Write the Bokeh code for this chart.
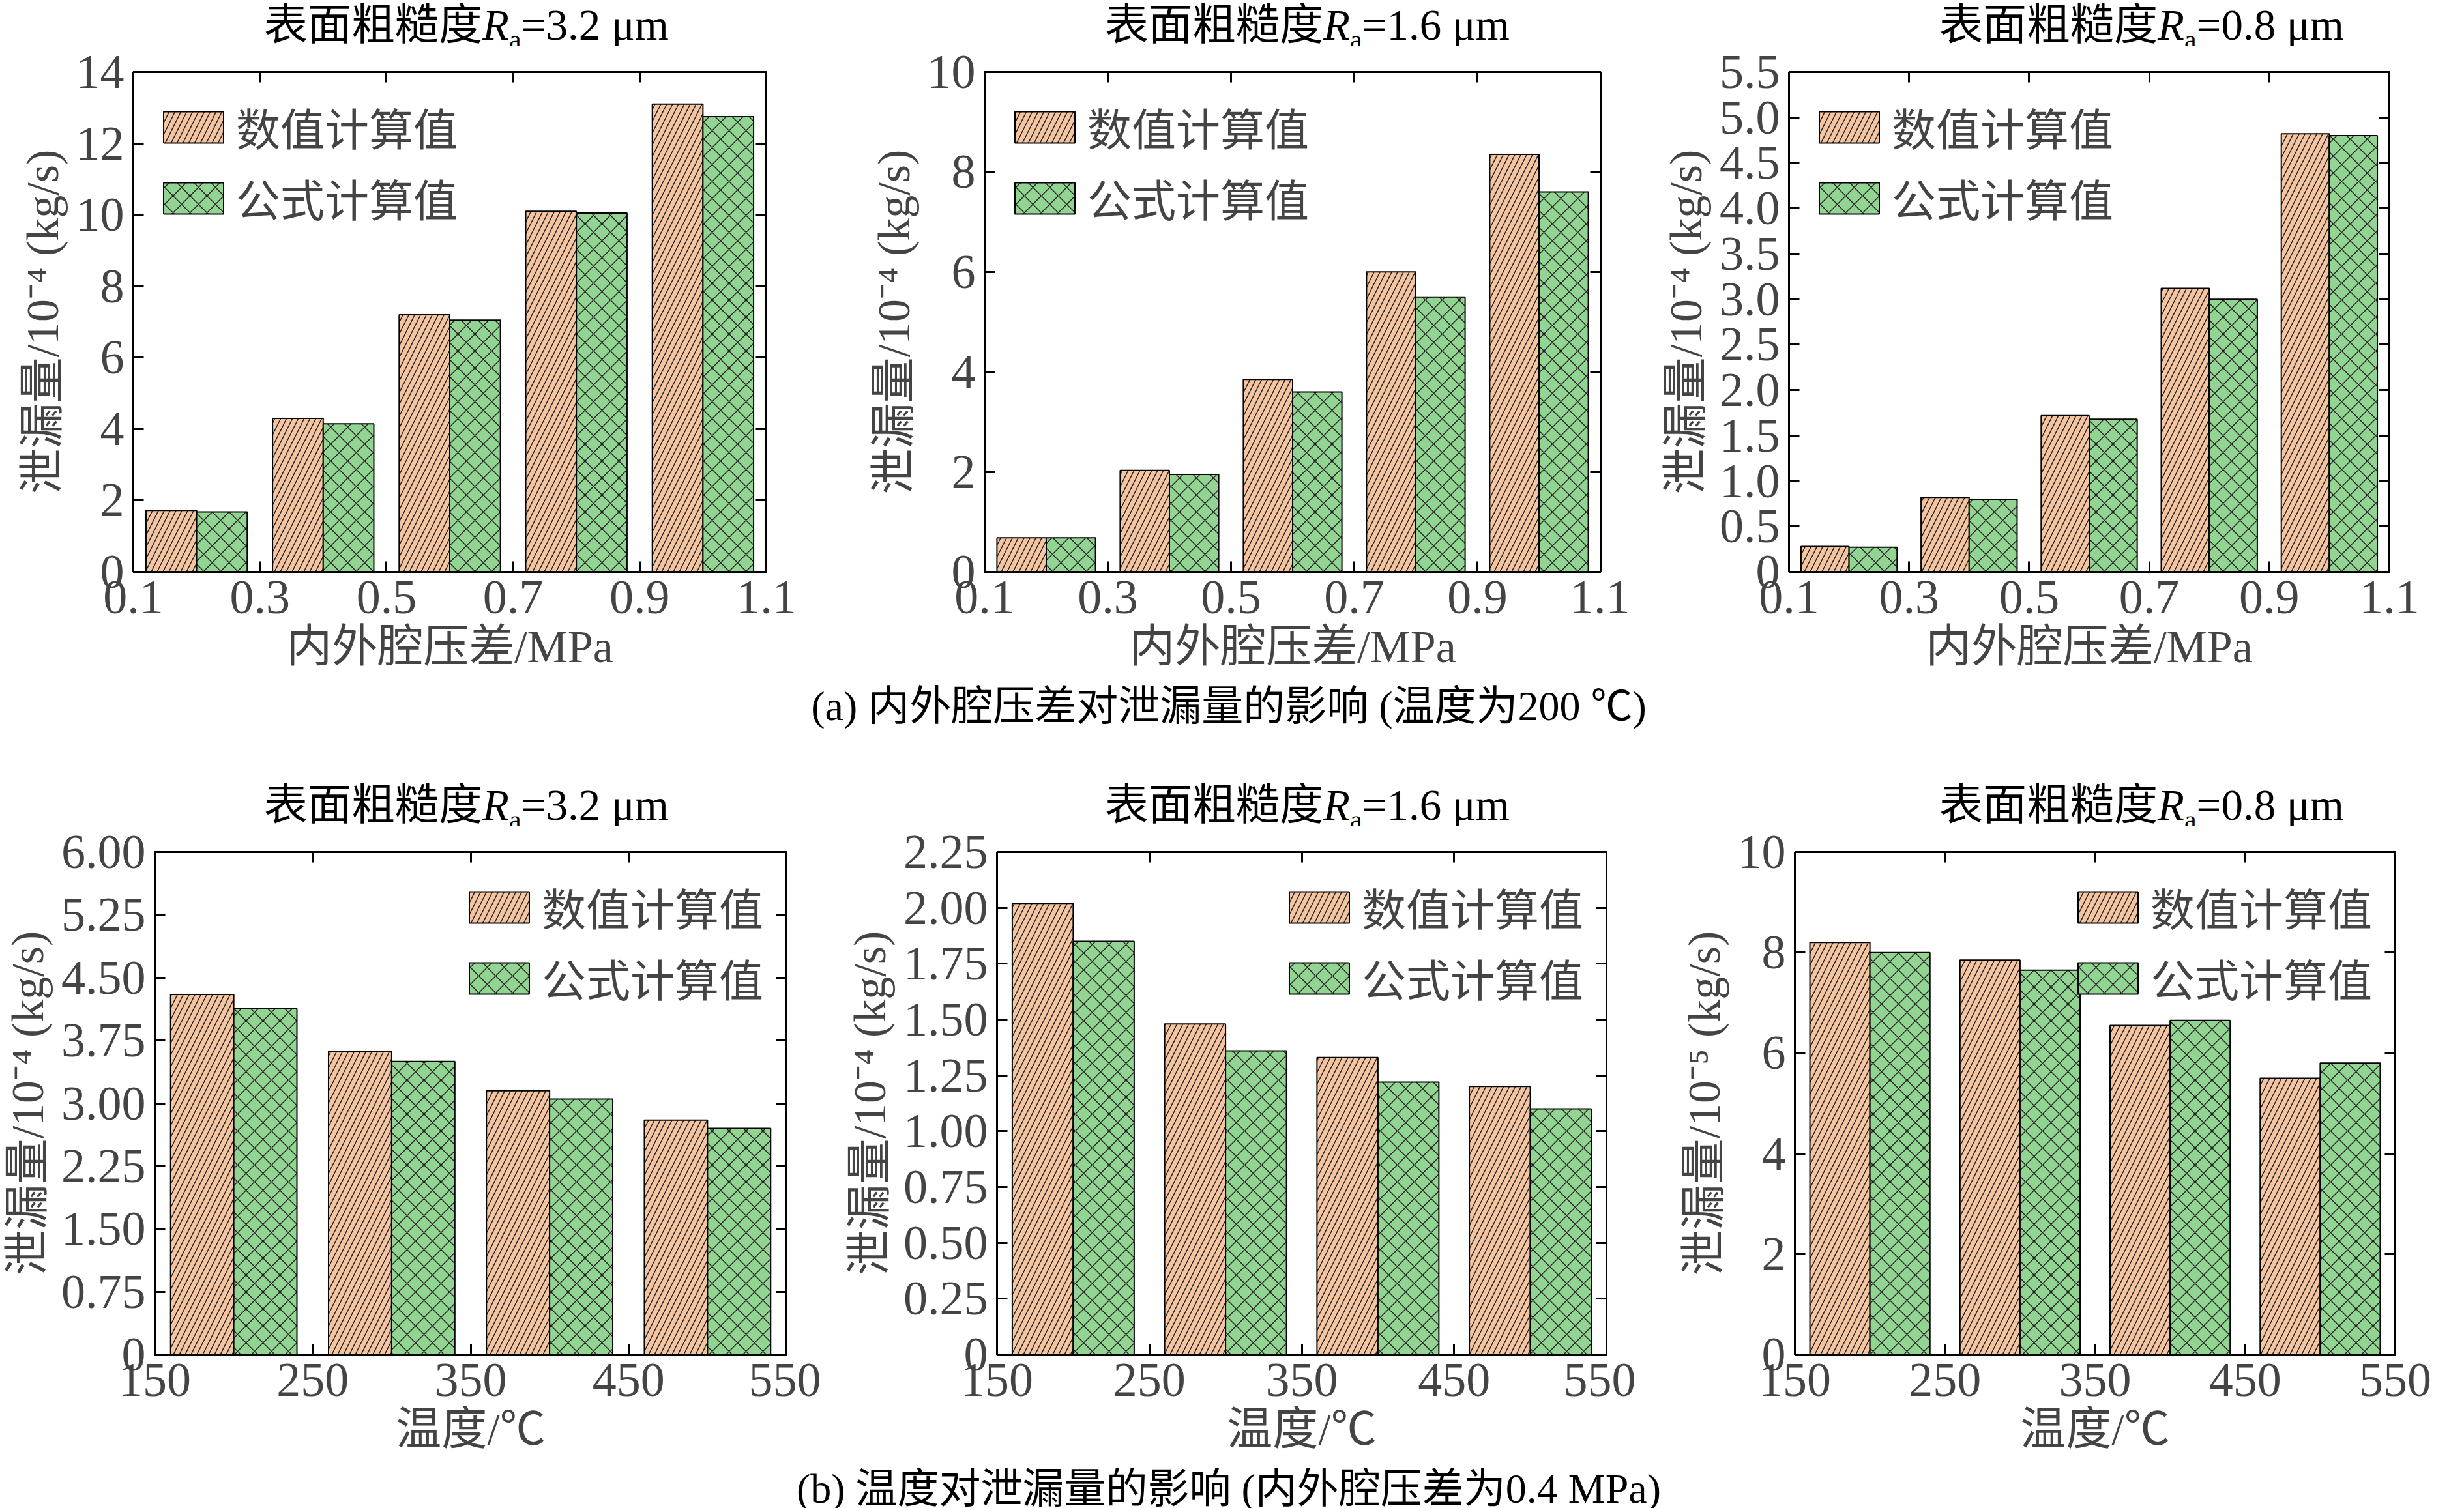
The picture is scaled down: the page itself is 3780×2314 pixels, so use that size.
from bokeh.plotting import figure
from bokeh.models import Div, LinearAxis, Range1d, Legend, LegendItem, FixedTicker, CustomJSTickFormatter
from bokeh.layouts import column, row
from bokeh.embed import file_html
from bokeh.resources import INLINE

# ---- data ----
pressure = [0.2, 0.4, 0.6, 0.8, 1.0]
temps = [200, 300, 400, 500]
a1_num = [1.72, 4.30, 7.20, 10.10, 13.10]
a1_for = [1.68, 4.15, 7.05, 10.05, 12.75]
a2_num = [0.68, 2.03, 3.85, 6.00, 8.35]
a2_for = [0.68, 1.95, 3.60, 5.50, 7.60]
a3_num = [0.28, 0.82, 1.72, 3.12, 4.82]
a3_for = [0.27, 0.80, 1.68, 3.00, 4.80]
b1_num = [4.30, 3.62, 3.15, 2.80]
b1_for = [4.13, 3.50, 3.05, 2.70]
b2_num = [2.02, 1.48, 1.33, 1.20]
b2_for = [1.85, 1.36, 1.22, 1.10]
b3_num = [8.20, 7.85, 6.55, 5.50]
b3_for = [8.00, 7.65, 6.65, 5.80]
ra_labels = ["3.2", "1.6", "0.8"]
p_ticks = [0.1, 0.3, 0.5, 0.7, 0.9, 1.1]
t_ticks = [150, 250, 350, 450, 550]

FONT = "'Liberation Serif', 'Noto Sans CJK SC'"
ORANGE = "#f5c4a0"
GREEN = "#92d492"

def panel(xs, num, fo, bw, xr, xt, yr, yt, ylab, xlab, loc, fw, fh, bl, br, fmt=None):
    p = figure(frame_width=fw, frame_height=fh, min_border_left=bl, min_border_right=br,
               min_border_top=40, min_border_bottom=170,
               x_range=Range1d(*xr), y_range=Range1d(*yr),
               output_backend="svg", toolbar_location=None)
    p.grid.visible = False
    p.outline_line_color = "black"
    p.outline_line_width = 3
    left = [x - bw / 2 for x in xs]
    right = [x + bw / 2 for x in xs]
    r1 = p.vbar(x=left, top=num, width=bw, bottom=0, fill_color=ORANGE, line_color="black",
                line_width=2, hatch_pattern="right_diagonal_line", hatch_color="#222222",
                hatch_scale=18, hatch_weight=1.5)
    r2 = p.vbar(x=right, top=fo, width=bw, bottom=0, fill_color=GREEN, line_color="black",
                line_width=2, hatch_pattern="diagonal_cross", hatch_color="#222222",
                hatch_scale=26, hatch_weight=1.5)
    leg = Legend(items=[LegendItem(label="数值计算值", renderers=[r1]),
                        LegendItem(label="公式计算值", renderers=[r2])],
                 location=loc, border_line_color=None, background_fill_alpha=0,
                 label_text_font=FONT, label_text_font_size="68px",
                 glyph_width=115, glyph_height=60, spacing=10, padding=8,
                 label_standoff=8, margin=35)
    p.add_layout(leg)
    p.xaxis.ticker = FixedTicker(ticks=xt)
    p.yaxis.ticker = FixedTicker(ticks=yt)
    if fmt:
        p.yaxis.formatter = CustomJSTickFormatter(code="return tick==0 ? '0' : tick.toFixed(%d);" % fmt)
    for ax in [p.xaxis[0], p.yaxis[0]]:
        ax.major_label_text_font = FONT
        ax.major_label_text_font_size = "74px"
        ax.axis_label_text_font = FONT
        ax.axis_label_text_font_size = "70px"
        ax.axis_label_text_font_style = "normal"
        ax.major_tick_in = 16
        ax.major_tick_out = 0
        ax.minor_tick_in = 0
        ax.minor_tick_out = 0
        ax.axis_line_width = 3
        ax.major_tick_line_width = 3
        ax.major_label_standoff = 14
        ax.axis_label_standoff = 10
    p.xaxis.axis_label = xlab
    p.yaxis.axis_label = ylab
    for side, t in (("right", yt), ("above", xt)):
        a = LinearAxis(ticker=FixedTicker(ticks=t),
                       formatter=CustomJSTickFormatter(code="return '';"),
                       major_label_standoff=0,
                       major_tick_in=16, major_tick_out=0, minor_tick_out=0,
                       axis_line_color=None, major_tick_line_width=3)
        p.add_layout(a, side)
    return p

def tdiv(ra, w, left):
    return Div(text=("<div style=\"font-family:%s;font-size:67px;white-space:nowrap;line-height:1;\">"
                     "表面粗糙度<i>R</i><sub style='font-size:42px'>a</sub>=%s μm</div>") % (FONT, ra),
               width=w, height=60, styles={"padding-left": "%dpx" % left})

def cap(txt, h):
    return Div(text="<div style=\"font-family:%s;font-size:64px;text-align:center;width:3760px;line-height:1;\">%s</div>" % (FONT, txt),
               width=3760, height=h)

pl = "内外腔压差/MPa"
tl = "温度/℃"
y4 = "泄漏量/10⁻⁴ (kg/s)"
y5 = "泄漏量/10⁻⁵ (kg/s)"
xrp = (0.1, 1.1)
xrt = (150, 550)

a1 = panel(pressure, a1_num, a1_for, 0.08, xrp, p_ticks, (0, 14), list(range(0, 15, 2)), y4, pl, "top_left", 971, 767, 204, 75)
a2 = panel(pressure, a2_num, a2_for, 0.08, xrp, p_ticks, (0, 10), list(range(0, 11, 2)), y4, pl, "top_left", 945, 767, 260, 45)
a3 = panel(pressure, a3_num, a3_for, 0.08, xrp, p_ticks, (0, 5.5), [i * 0.5 for i in range(12)], y4, pl, "top_left", 921, 767, 244, 85, fmt=1)
b1 = panel(temps, b1_num, b1_for, 40, xrt, t_ticks, (0, 6), [i * 0.75 for i in range(9)], y4, tl, "top_right", 969, 771, 228, 53, fmt=2)
b2 = panel(temps, b2_num, b2_for, 40, xrt, t_ticks, (0, 2.25), [i * 0.25 for i in range(10)], y4, tl, "top_right", 935, 771, 270, 45, fmt=2)
b3 = panel(temps, b3_num, b3_for, 40, xrt, t_ticks, (0, 10), list(range(0, 11, 2)), y5, tl, "top_right", 921, 771, 244, 85)

top_titles = row(tdiv(ra_labels[0], 1250, 400), tdiv(ra_labels[1], 1250, 430), tdiv(ra_labels[2], 1250, 450))
bot_titles = row(tdiv(ra_labels[0], 1250, 400), tdiv(ra_labels[1], 1250, 430), tdiv(ra_labels[2], 1250, 450))
layout = column(top_titles, row(a1, a2, a3),
                cap("(a) 内外腔压差对泄漏量的影响 (温度为200 ℃)", 140),
                bot_titles, row(b1, b2, b3),
                cap("(b) 温度对泄漏量的影响 (内外腔压差为0.4 MPa)", 60), spacing=0)

open("out.html", "w").write(file_html(layout, INLINE))
